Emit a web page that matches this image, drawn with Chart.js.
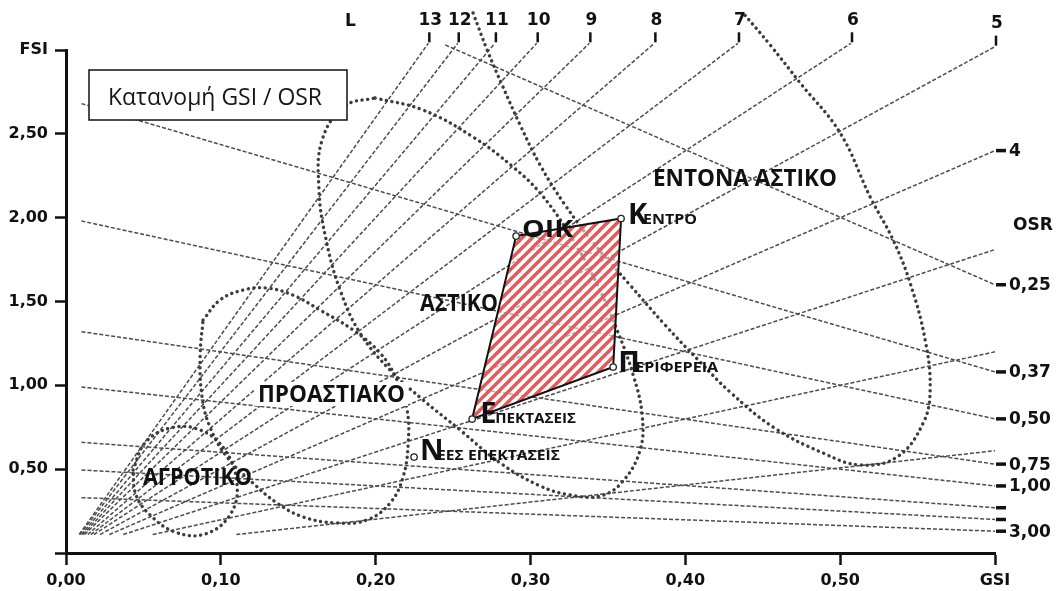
<!DOCTYPE html>
<html>
<head>
<meta charset="utf-8">
<title>Κατανομή GSI / OSR</title>
<script src="https://cdn.jsdelivr.net/npm/chart.js@4.4.1/dist/chart.umd.min.js"></script>
<style>
  html, body { margin: 0; padding: 0; background: #fff; }
</style>
</head>
<body>
<canvas id="chart" width="1057" height="591"></canvas>
<script>
// Ετικέτες αξόνων
const gsiTicks = ['0,00', '0,10', '0,20', '0,30', '0,40', '0,50', 'GSI'];
const fsiTicks = ['', '0,50', '1,00', '1,50', '2,00', '2,50', 'FSI'];

// Γραμμές ορόφων L (αρχή / τέλος σε GSI, FSI)
const floorLabels = ['', '', '', '4', '5', '6', '7', '8', '9', '10', '11', '12', '13'];
const floorStartGSI = [0.110, 0.056, 0.037, 0.028, 0.022, 0.018, 0.016, 0.014, 0.012, 0.011, 0.010, 0.009, 0.0085];
const floorStartFSI = [0.11, 0.11, 0.11, 0.11, 0.11, 0.11, 0.11, 0.11, 0.11, 0.11, 0.11, 0.11, 0.11];
const floorEndGSI = [0.60, 0.60, 0.60, 0.60, 0.60, 0.507, 0.434, 0.380, 0.338, 0.304, 0.277, 0.253, 0.234];
const floorEndFSI = [0.61, 1.20, 1.81, 2.40, 3.02, 3.04, 3.04, 3.04, 3.04, 3.04, 3.04, 3.04, 3.04];

// Γραμμές OSR
const osrLabels = ['0,25', '0,37', '0,50', '0,75', '1,00', '', '', '3,00'];
const osrStartGSI = [0.245, 0.01, 0.01, 0.01, 0.01, 0.01, 0.01, 0.01];
const osrStartFSI = [3.03, 2.68, 1.98, 1.32, 0.99, 0.66, 0.495, 0.33];
const osrEndGSI = [0.60, 0.60, 0.60, 0.60, 0.60, 0.60, 0.60, 0.60];
const osrEndFSI = [1.60, 1.08, 0.80, 0.53, 0.40, 0.27, 0.20, 0.13];

// Περιοχές (διακεκομμένα όρια) [GSI, FSI]
const regionAgrotiko = [[0.0433, 0.495], [0.0510, 0.656], [0.0672, 0.745], [0.0866, 0.734], [0.1027, 0.614], [0.1105, 0.406],
  [0.1059, 0.227], [0.0898, 0.113], [0.0704, 0.125], [0.0543, 0.227], [0.0452, 0.346]];
const regionProastiako = [[0.0885, 1.389], [0.0995, 1.509], [0.1143, 1.568], [0.1298, 1.580], [0.1466, 1.538], [0.1641, 1.449],
  [0.1854, 1.330], [0.2028, 1.193], [0.2138, 1.032], [0.2203, 0.853], [0.2210, 0.656], [0.2177, 0.453], [0.2093, 0.298],
  [0.1944, 0.197], [0.1750, 0.179], [0.1531, 0.215], [0.1363, 0.298], [0.1208, 0.417], [0.1040, 0.572], [0.0930, 0.751],
  [0.0879, 0.930], [0.0866, 1.169]];
const regionAstiko = [[0.1996, 2.714], [0.2306, 2.642], [0.2629, 2.481], [0.2888, 2.302], [0.3062, 2.147], [0.3243, 1.914],
  [0.3417, 1.628], [0.3559, 1.330], [0.3663, 1.062], [0.3721, 0.823], [0.3708, 0.614], [0.3592, 0.423], [0.3450, 0.340],
  [0.3256, 0.346], [0.3062, 0.400], [0.2804, 0.537], [0.2545, 0.734], [0.2306, 0.913], [0.2093, 1.091], [0.1899, 1.312],
  [0.1770, 1.569], [0.1680, 1.867], [0.1634, 2.165], [0.1654, 2.463], [0.1802, 2.666]];
const regionEntono = [[0.2629, 3.221], [0.2720, 3.000], [0.2817, 2.791], [0.2933, 2.553], [0.3062, 2.314], [0.3223, 2.076],
  [0.3417, 1.837], [0.3643, 1.598], [0.3869, 1.360], [0.4096, 1.139], [0.4289, 0.960], [0.4567, 0.751], [0.4890, 0.596],
  [0.5129, 0.525], [0.5368, 0.573], [0.5536, 0.775], [0.5581, 0.972], [0.5549, 1.270], [0.5452, 1.610], [0.5342, 1.867],
  [0.5194, 2.123], [0.5000, 2.505], [0.4742, 2.803], [0.4548, 3.030], [0.4373, 3.221]];

const regionLabels = ['ΑΓΡΟΤΙΚΟ', 'ΠΡΟΑΣΤΙΑΚΟ', 'ΑΣΤΙΚΟ', 'ΕΝΤΟΝΑ ΑΣΤΙΚΟ'];
const regionLabelGSI = [0.0497, 0.124, 0.2286, 0.3791];
const regionLabelFSI = [0.453, 0.948, 1.491, 2.236];

// Σημεία μελέτης
const pointNames = ['ΟΙΚ', 'ΚΕΝΤΡΟ', 'ΠΕΡΙΦΕΡΕΙΑ', 'ΕΠΕΚΤΑΣΕΙΣ', 'ΝΕΕΣ ΕΠΕΚΤΑΣΕΙΣ'];
const pointGSI = [0.2907, 0.3585, 0.3534, 0.2623, 0.2248];
const pointFSI = [1.890, 1.995, 1.109, 0.799, 0.572];
// το γραμμοσκιασμένο τετράπλευρο: ΟΙΚ, Κέντρο, Περιφέρεια, Επεκτάσεις
const areaPoints = [0, 1, 2, 3];

const titleText = 'Κατανομή GSI / OSR';

// στυλ (θέσεις σε px σχετικά με τα σημεία)
const regionLabelWidth = [109, 147, 78, 184];
const pointLabelStyle = [
  { dx: 6, dy: 1, big: 51 },
  { dx: 7, dy: 5, sdx: 22, sw: 54 },
  { dx: 5, dy: 5, sdx: 22, sw: 83 },
  { dx: 8, dy: 4, sdx: 23, sw: 81 },
  { dx: 6, dy: 3, sdx: 23, sw: 123 }
];

function fitText(ctx, text, x, y, font, width) {
  ctx.font = font;
  const w = ctx.measureText(text).width;
  const s = width ? width / w : 1;
  ctx.save();
  ctx.translate(x, y);
  ctx.scale(s, 1);
  ctx.fillText(text, 0, 0);
  ctx.restore();
}

// μοτίβο γραμμοσκίασης
const hatchCanvas = document.createElement('canvas');
hatchCanvas.width = 10;
hatchCanvas.height = 10;
(function () {
  const g = hatchCanvas.getContext('2d');
  g.strokeStyle = '#ec5656';
  g.lineWidth = 3.4;
  [[-5, 5, 5, -5], [0, 10, 10, 0], [5, 15, 15, 5]].forEach(function (l) {
    g.beginPath();
    g.moveTo(l[0], l[1]);
    g.lineTo(l[2], l[3]);
    g.stroke();
  });
})();

const datasets = [];

const thinLine = {
  showLine: true, borderColor: '#4c4c4c', borderWidth: 1.5, borderDash: [4, 2],
  pointRadius: 0, pointHoverRadius: 0, tension: 0, clip: false, order: 4
};
floorLabels.forEach(function (lab, i) {
  datasets.push(Object.assign({}, thinLine, {
    label: 'L' + (i + 1), kind: 'floor', endLabel: lab,
    data: [{ x: floorStartGSI[i], y: floorStartFSI[i] }, { x: floorEndGSI[i], y: floorEndFSI[i] }]
  }));
});
osrLabels.forEach(function (lab, i) {
  datasets.push(Object.assign({}, thinLine, {
    label: 'OSR' + i, kind: 'osr', endLabel: lab,
    data: [{ x: osrStartGSI[i], y: osrStartFSI[i] }, { x: osrEndGSI[i], y: osrEndFSI[i] }]
  }));
});

const regionPaths = [regionAgrotiko, regionProastiako, regionAstiko, regionEntono];
const regionClosed = [true, true, true, false];
regionPaths.forEach(function (path, i) {
  const pts = path.map(function (p) { return { x: p[0], y: p[1] }; });
  if (regionClosed[i]) pts.push(pts[0]);
  datasets.push({
    label: regionLabels[i], showLine: true, data: pts,
    borderColor: '#3c3c3c', borderWidth: 3.4, borderDash: [0.1, 5.6], borderCapStyle: 'round',
    tension: 0.4, capBezierPoints: false, pointRadius: 0, pointHoverRadius: 0, clip: false, order: 3
  });
});

const areaData = areaPoints.map(function (k) { return { x: pointGSI[k], y: pointFSI[k] }; });
areaData.push(areaData[0]);
datasets.push({
  label: 'area', showLine: true, hatch: true, data: areaData,
  borderColor: '#111', borderWidth: 2, tension: 0, pointRadius: 0, pointHoverRadius: 0, order: 1
});

datasets.push({
  label: 'points', kind: 'points', showLine: false,
  data: pointGSI.map(function (g, i) { return { x: g, y: pointFSI[i] }; }),
  pointRadius: 3.2, pointHoverRadius: 3.2, pointBackgroundColor: '#fff',
  pointBorderColor: '#222', pointBorderWidth: 1.3, order: 0
});

const hatchPlugin = {
  id: 'hatch',
  beforeDatasetDraw(chart, args) {
    const ds = chart.data.datasets[args.index];
    if (!ds.hatch) return;
    const ctx = chart.ctx;
    const pts = args.meta.data;
    ctx.save();
    ctx.beginPath();
    pts.forEach(function (p, i) { if (i) ctx.lineTo(p.x, p.y); else ctx.moveTo(p.x, p.y); });
    ctx.closePath();
    ctx.fillStyle = 'rgba(255,255,255,0.55)';
    ctx.fill();
    ctx.fillStyle = ctx.createPattern(hatchCanvas, 'repeat');
    ctx.fill();
    ctx.restore();
  }
};

const labelsPlugin = {
  id: 'labels',
  afterDatasetsDraw(chart) {
    const ctx = chart.ctx;
    const xs = chart.scales.x, ys = chart.scales.y;
    const area = chart.chartArea;
    ctx.save();
    ctx.fillStyle = '#111';
    ctx.strokeStyle = '#111';

    // τίτλος
    ctx.fillStyle = '#fff';
    ctx.fillRect(area.left + 23, area.top + 20, 258, 50);
    ctx.lineWidth = 1.5;
    ctx.strokeRect(area.left + 23, area.top + 20, 258, 50);
    ctx.fillStyle = '#161616';
    ctx.textBaseline = 'alphabetic';
    fitText(ctx, titleText, area.left + 42, area.top + 55, '400 24px "Open Sans"', 214);

    // ετικέτες γραμμών L και OSR
    ctx.fillStyle = '#111';
    ctx.font = 'bold 17px "DejaVu Sans"';
    chart.data.datasets.forEach(function (ds, i) {
      if (!ds.endLabel && ds.kind !== 'osr') return;
      const meta = chart.getDatasetMeta(i);
      const end = meta.data[meta.data.length - 1];
      if (end.y < area.top + 4) {
        ctx.lineWidth = 2.5;
        ctx.beginPath();
        ctx.moveTo(end.x + 1, end.y - 1);
        ctx.lineTo(end.x + 1, end.y - 11);
        ctx.stroke();
        ctx.textAlign = 'center';
        ctx.textBaseline = 'middle';
        ctx.fillText(ds.endLabel, end.x + 2, end.y - 23);
      } else {
        ctx.lineWidth = 3.5;
        ctx.beginPath();
        ctx.moveTo(end.x + 1, end.y);
        ctx.lineTo(end.x + 11, end.y);
        ctx.stroke();
        ctx.textAlign = 'left';
        ctx.textBaseline = 'middle';
        if (ds.endLabel) ctx.fillText(ds.endLabel, end.x + 14, end.y + 1);
      }
    });
    ctx.textAlign = 'left';
    ctx.textBaseline = 'middle';
    ctx.fillText('OSR', xs.getPixelForValue(0.6) + 18, ys.getPixelForValue(1.95));
    ctx.fillText('L', xs.getPixelForValue(0.1835) - 5, ys.getPixelForValue(3.17));

    // ετικέτες περιοχών
    regionLabels.forEach(function (t, i) {
      const x = xs.getPixelForValue(regionLabelGSI[i]);
      const y = ys.getPixelForValue(regionLabelFSI[i]);
      if (i === 1) {
        ctx.fillStyle = '#fff';
        ctx.fillRect(x - 3, y - 12, regionLabelWidth[i] + 6, 24);
        ctx.fillStyle = '#111';
      }
      ctx.textBaseline = 'middle';
      fitText(ctx, t, x, y + 1, 'bold 24px "Open Sans"', regionLabelWidth[i]);
    });

    // ετικέτες σημείων
    const pm = chart.getDatasetMeta(chart.data.datasets.length - 1);
    ctx.textBaseline = 'alphabetic';
    pointNames.forEach(function (name, i) {
      const p = pm.data[i];
      const st = pointLabelStyle[i];
      if (st.big) {
        fitText(ctx, name, p.x + st.dx, p.y + st.dy, 'bold 23px "Open Sans"', st.big);
      } else {
        fitText(ctx, name.charAt(0), p.x + st.dx, p.y + st.dy, 'bold 29px "Open Sans"', 0);
        fitText(ctx, name.slice(1), p.x + st.sdx, p.y + st.dy, 'bold 15px "Open Sans"', st.sw);
      }
    });
    ctx.restore();
  }
};

const tickFont = { family: 'DejaVu Sans', weight: 'bold', size: 16 };

new Chart(document.getElementById('chart'), {
  type: 'scatter',
  data: { datasets: datasets },
  options: {
    responsive: false,
    animation: false,
    events: [],
    layout: { padding: { top: 50, right: 62, left: 0, bottom: 0 } },
    plugins: { legend: { display: false }, tooltip: { enabled: false } },
    scales: {
      x: {
        type: 'linear', min: 0, max: 0.6,
        afterFit: function (s) { s.height = 38; },
        grid: { drawOnChartArea: false, drawTicks: true, tickLength: 12, tickWidth: 2.5, tickColor: '#111' },
        border: { display: true, color: '#111', width: 3 },
        ticks: {
          stepSize: 0.1, autoSkip: false, maxRotation: 0, padding: 6, color: '#111', font: tickFont,
          callback: function (v, i) { return gsiTicks[i]; }
        }
      },
      y: {
        type: 'linear', min: 0, max: 3,
        afterFit: function (s) { s.width = 66; },
        grid: { drawOnChartArea: false, drawTicks: true, tickLength: 11, tickWidth: 2.5, tickColor: '#111' },
        border: { display: true, color: '#111', width: 3 },
        ticks: {
          stepSize: 0.5, autoSkip: false, padding: 7, color: '#111', font: tickFont,
          callback: function (v, i) { return fsiTicks[i]; }
        }
      }
    }
  },
  plugins: [hatchPlugin, labelsPlugin]
});
</script>
</body>
</html>
